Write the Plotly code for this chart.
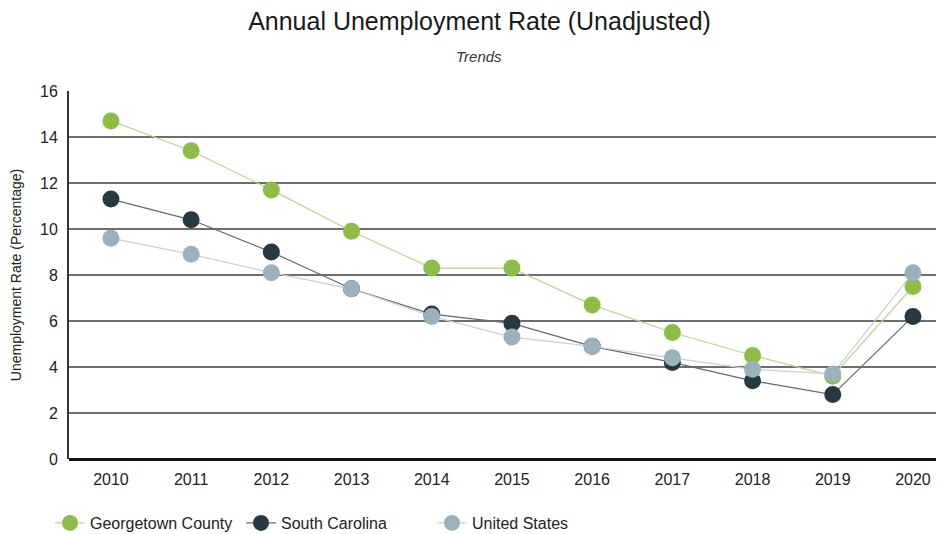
import plotly.graph_objects as go

years = [2010, 2011, 2012, 2013, 2014, 2015, 2016, 2017, 2018, 2019, 2020]
georgetown = [14.7, 13.4, 11.7, 9.9, 8.3, 8.3, 6.7, 5.5, 4.5, 3.6, 7.5]
south_carolina = [11.3, 10.4, 9.0, 7.4, 6.3, 5.9, 4.9, 4.2, 3.4, 2.8, 6.2]
united_states = [9.6, 8.9, 8.1, 7.4, 6.2, 5.3, 4.9, 4.4, 3.9, 3.7, 8.1]

# the page body adds an 8px margin; work in figure coordinates
OFF = 8
W, H = 944 - OFF, 534 - OFF
L, T = 69 - OFF, 91 - OFF
PLOT_BOTTOM = 459 - OFF
B = H - PLOT_BOTTOM
PW, PH = W - L, PLOT_BOTTOM - T

series = [
    ("Georgetown County", georgetown, "#8bbd47", "#b9d68e", "legend", 50),
    ("South Carolina", south_carolina, "#263840", "#5f6b70", "legend2", 241),
    ("United States", united_states, "#9bb1bd", "#c3d2da", "legend3", 432),
]

fig = go.Figure()
for name, vals, mcol, lcol, lg, lx in series:
    fig.add_trace(go.Scatter(
        x=years, y=vals, name=name, mode="lines+markers",
        line=dict(color=lcol, width=1.2),
        marker=dict(color=mcol, size=17),
        legend=lg,
    ))

def legend_cfg(xpx):
    return dict(orientation="h", x=(xpx - OFF - L) / PW, y=-((523 - OFF) - PLOT_BOTTOM) / PH,
                xanchor="left", yanchor="middle", font=dict(size=16, color="#222"),
                bgcolor="rgba(0,0,0,0)", itemwidth=30)

fig.update_layout(
    width=W, height=H,
    paper_bgcolor="white", plot_bgcolor="white",
    font=dict(family="Liberation Sans, Arial, sans-serif", color="#222", size=16),
    margin=dict(l=L, r=0, t=T, b=B, autoexpand=False),
    title=dict(text="Annual Unemployment Rate (Unadjusted)", x=(479.5 - OFF) / W, xref="container",
               xanchor="center", y=1 - (21 - OFF) / H, yref="container", yanchor="middle",
               font=dict(size=25, color="#1a1a1a")),
    showlegend=True,
    legend=legend_cfg(series[0][5]),
    legend2=legend_cfg(series[1][5]),
    legend3=legend_cfg(series[2][5]),
    annotations=[dict(text="<i>Trends</i>", x=(479 - OFF - L) / PW, y=1 + (T - (57 - OFF)) / PH,
                      xref="paper", yref="paper", xanchor="center", yanchor="middle",
                      showarrow=False, font=dict(size=15, color="#333"))],
)

fig.update_xaxes(
    range=[2009.477, 2020.387], tickmode="array", tickvals=years,
    ticktext=[str(y) for y in years], showgrid=False, zeroline=False,
    showline=False, ticks="", tickfont=dict(size=16, color="#222"), automargin=False,
    ticklabelstandoff=9,
)
fig.update_yaxes(
    range=[0, 16], tickmode="array", tickvals=list(range(0, 17, 2)),
    showgrid=True, gridcolor="#6e6e6e", gridwidth=1.5, zeroline=True,
    zerolinecolor="#111", zerolinewidth=3, showline=True, linecolor="#333", linewidth=1.8,
    ticks="", tickfont=dict(size=16, color="#222"), ticklabelstandoff=6, automargin=False,
    title=dict(text="Unemployment Rate (Percentage)", font=dict(size=14, color="#222"), standoff=26),
)

fig.write_html("out.html")
